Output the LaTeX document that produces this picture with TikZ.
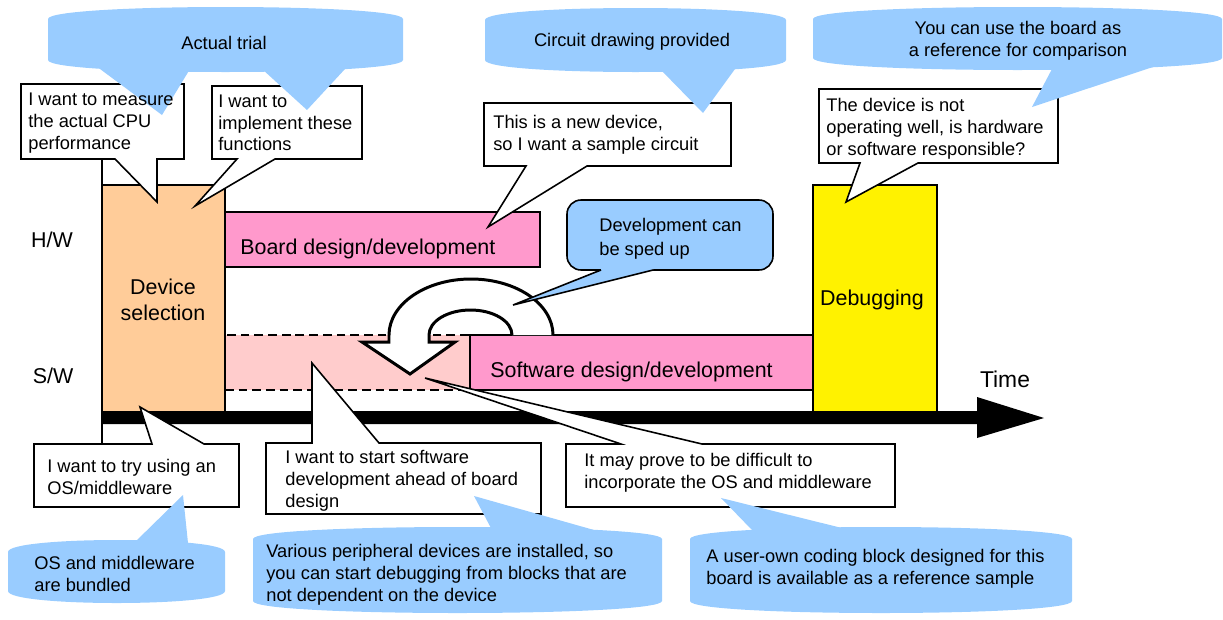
\documentclass[tikz,border=0pt]{standalone}
\usepackage{fontspec}
\setmainfont{Liberation Sans}
\usetikzlibrary{positioning}

\definecolor{callblue}{HTML}{99CCFF}
\definecolor{selorange}{HTML}{FFCC99}
\definecolor{devpink}{HTML}{FF99CC}
\definecolor{lightpink}{HTML}{FFCCCC}

% blue bubble without border: x1 y1 x2 y2 (pixel units)
\newcommand{\blob}[4]{%
  \fill[callblue] (#1,#2+12) .. controls (#1,#2-4) and (#3,#2-4) .. (#3,#2+12)
    -- (#3,#4-12) .. controls (#3,#4+4) and (#1,#4+4) .. (#1,#4-12) -- cycle;}

\begin{document}
\begin{tikzpicture}[x=0.02cm,y=-0.02cm]

  \tikzstyle{every node}=[inner sep=0pt]
  \tikzstyle{big}=[font=\fontsize{12.2}{15}\selectfont]
  \tikzstyle{small}=[font=\fontsize{10.4}{12.4}\selectfont, align=left, anchor=west]
  \tikzstyle{bar}=[draw=black, line width=0.9pt]
  \tikzstyle{callout}=[fill=white, draw=black, line width=0.9pt]

  \useasboundingbox (0,0) rectangle (1223,619);

  % phases
  \draw[bar] (102,159) -- (102,444);
  \draw[bar, fill=devpink] (225,212) rectangle (540,267);
  \draw[draw=black, line width=1.6pt, dash pattern=on 5pt off 2.8pt, fill=lightpink] (225,335) rectangle (470,390);
  \draw[bar, fill=devpink] (470,335) rectangle (813,390);
  \draw[bar, fill=yellow] (813,185) rectangle (937,412);
  \draw[bar, fill=selorange] (102,185) rectangle (225,412);

  % u-turn arrow
  \fill[white] (512,335) .. controls (512,321.2) and (493.4,310) .. (470.5,310)
    .. controls (447.6,310) and (429,321.2) .. (429,335) -- (429,342) -- (455,342)
    -- (410,374) -- (362,342) -- (389,342) -- (389,335)
    .. controls (389,304.1) and (425.7,279) .. (471,279)
    .. controls (516.3,279) and (553,304.1) .. (553,335) -- cycle;
  \draw[line width=1.7pt] (512,335) .. controls (512,321.2) and (493.4,310) .. (470.5,310)
    .. controls (447.6,310) and (429,321.2) .. (429,335) -- (429,342) -- (455,342)
    -- (410,374) -- (362,342) -- (389,342) -- (389,335)
    .. controls (389,304.1) and (425.7,279) .. (471,279)
    .. controls (516.3,279) and (553,304.1) .. (553,335);

  % time axis
  \coordinate (t0) at (102,417);
  \coordinate (t1) at (1044,418);
  \fill (t0) ++(0,-6) -- (977,411) -- (977,397) -- (t1) -- (977,438) -- (977,424) -- (102,424) -- cycle;

  % white callouts
  \draw[callout] (21,84) -- (184,84) -- (184,159) -- (157,159) -- (157,202) -- (115,159) -- (21,159) -- cycle;
  \draw[callout] (212,86) -- (362,86) -- (362,159) -- (275,159) -- (195,206) -- (237,159) -- (212,159) -- cycle;
  \draw[callout] (484,103) -- (731,103) -- (731,166) -- (587,166) -- (488,227) -- (526,166) -- (484,166) -- cycle;
  \draw[callout] (819,89) -- (1058,89) -- (1058,163) -- (918,163) -- (846,202) -- (860,163) -- (819,163) -- cycle;
  \draw[callout] (34,444) -- (152,444) -- (140,407) -- (204,444) -- (239,444) -- (239,507) -- (34,507) -- cycle;
  \draw[callout] (266,443) -- (312,443) -- (312,363) -- (379,443) -- (541,443) -- (541,514) -- (266,514) -- cycle;
  \draw[callout] (566,444) -- (621,444) -- (425,378) -- (702,444) -- (895,444) -- (895,507) -- (566,507) -- cycle;

  % blue callout with border
  \draw[bar, fill=callblue, rounded corners=8pt] (567,200) rectangle (773,270);
  \fill[callblue] (601,270) -- (513,305) -- (653,270) -- (653,264) -- (601,264) -- cycle;
  \draw[bar] (601,270) -- (513,305) -- (653,270);

  % blue bubbles
  \blob{48}{7}{403}{72}
  \fill[callblue] (100,69) -- (162,115) -- (190,69) -- cycle;
  \fill[callblue] (262,69) -- (307,110) -- (345,69) -- cycle;
  \blob{485}{8}{786}{72}
  \fill[callblue] (660,69) -- (703,113) -- (735,69) -- cycle;
  \blob{813}{7}{1222}{70}
  \fill[callblue] (1053,67) -- (1032,107) -- (1153,67) -- cycle;
  \blob{8}{540}{225}{603}
  \fill[callblue] (134,543) -- (183,495) -- (188,543) -- cycle;
  \blob{253}{527}{662}{613}
  \fill[callblue] (492,530) -- (474,496) -- (594,530) -- cycle;
  \blob{690}{527}{1072}{613}
  \fill[callblue] (752,530) -- (721,498) -- (850,530) -- cycle;

  % texts
  \node[small, anchor=center, align=center] (trial) at (224,43) {Actual trial};
  \node[small, anchor=center, align=center] (circuit) at (632,42) {Circuit drawing provided};
  \node[small, anchor=center, align=center] (compare) at (1018,41) {You can use the board as\\a reference for comparison};
  \node[small] (cpu) at (28,123) {I want to measure\\the actual CPU\\performance};
  \node[small] (impl) at (218,123) {I want to\\implement these\\functions};
  \node[small] (newdev) at (493,135) {This is a new device,\\so I want a sample circuit};
  \node[small] (notok) at (826,129) {The device is not\\operating well, is hardware\\or software responsible?};
  \node[small, font=\fontsize{10.4}{13.6}\selectfont] (sped) at (599,239) {Development can\\be sped up};

  \node[big] (hw) at (52,240) {H/W};
  \node[big] (sw) at (53,376) {S/W};
  \node[big, anchor=west] (board) at (240,249) {Board design/development};
  \node[big, align=center] (devsel) at (163,300) {Device\\selection};
  \node[big, anchor=west] (swdev) at (490,372) {Software design/development};
  \node[big] (debug) at (872,300) {Debugging};
  \node[big, font=\fontsize{13}{15}\selectfont] (time) at (1005,379) {Time};

  \node[small] (tryos) at (47,477) {I want to try using an\\OS/middleware};
  \node[small] (ahead) at (285,481) {I want to start software\\development ahead of board\\design};
  \node[small] (difficult) at (584,473) {It may prove to be difficult to\\incorporate the OS and middleware};
  \node[small] (bundled) at (34,574) {OS and middleware\\are bundled};
  \node[small] (various) at (266,575) {Various peripheral devices are installed, so\\you can start debugging from blocks that are\\not dependent on the device};
  \node[small] (userown) at (706,569) {A user-own coding block designed for this\\board is available as a reference sample};

\end{tikzpicture}
\end{document}
